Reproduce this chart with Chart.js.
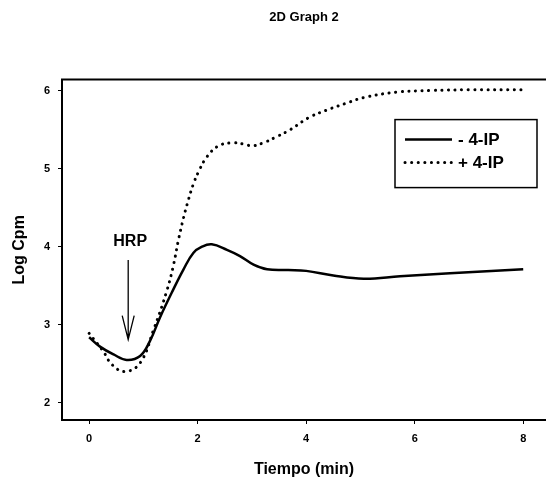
<!DOCTYPE html>
<html>
<head>
<meta charset="utf-8">
<script src="https://cdn.jsdelivr.net/npm/chart.js@4"></script>
<style>
  html, body { margin: 0; padding: 0; background: #fff; }
  #wrap { width: 546px; height: 483px; }
</style>
</head>
<body>
<div id="wrap"><canvas id="chart" width="546" height="483"></canvas></div>
<script>
// Datos
const solidX = [0, 0.2, 0.45, 0.69, 0.94, 1.12, 1.31, 1.55, 1.74, 1.92, 2.08, 2.26, 2.54, 2.78, 3.03, 3.28, 3.67, 4.0, 4.5, 5.06, 5.73, 6.65, 8.0];
const solidY = [2.84, 2.72, 2.62, 2.55, 2.60, 2.79, 3.10, 3.45, 3.71, 3.92, 4.00, 4.03, 3.96, 3.88, 3.77, 3.71, 3.70, 3.69, 3.63, 3.59, 3.62, 3.66, 3.71];
const dotX = [0, 0.26, 0.42, 0.66, 0.94, 1.19, 1.43, 1.55, 1.65, 1.74, 1.83, 1.92, 2.03, 2.17, 2.38, 2.63, 2.88, 3.0, 3.21, 3.46, 3.71, 4.04, 4.38, 4.75, 5.06, 5.67, 6.29, 7.0, 8.0];
const dotY = [2.89, 2.66, 2.49, 2.40, 2.51, 2.94, 3.43, 3.75, 4.10, 4.37, 4.60, 4.80, 4.98, 5.15, 5.29, 5.33, 5.31, 5.29, 5.33, 5.41, 5.50, 5.65, 5.75, 5.84, 5.91, 5.98, 6.0, 6.01, 6.01];
const seriesLabels = ['- 4-IP', '+ 4-IP'];
const xTicks = [0, 2, 4, 6, 8];
const yTicks = [2, 3, 4, 5, 6];
// Anotacion HRP: x, y del texto, inicio y punta de la flecha
const hrpX = 0.72;
const hrpTextY = 4.07;
const hrpArrowTop = 3.83;
const hrpArrowTip = 2.81;

const FONT = "Arial, 'Liberation Sans', sans-serif";

function toPoints(xs, ys) {
  return xs.map((x, i) => ({ x: x, y: ys[i] }));
}

// Marco superior, leyenda y anotacion HRP
const extras = {
  id: 'extras',
  afterDraw(chart) {
    const ctx = chart.ctx;
    const a = chart.chartArea;
    const xs = chart.scales.x, ys = chart.scales.y;
    ctx.save();

    // linea superior del marco
    ctx.strokeStyle = '#000';
    ctx.lineWidth = 2;
    ctx.beginPath();
    ctx.moveTo(a.left - 1, a.top);
    ctx.lineTo(a.right, a.top);
    ctx.stroke();

    // leyenda
    const bx = a.right - 151, by = a.top + 40, bw = 142, bh = 68;
    ctx.lineWidth = 1.5;
    ctx.strokeRect(bx, by, bw, bh);
    const ds = chart.data.datasets;
    ds.forEach((d, i) => {
      const ly = by + 20 + i * 23;
      ctx.beginPath();
      ctx.lineWidth = d.borderWidth;
      ctx.lineCap = d.borderCapStyle || 'butt';
      ctx.setLineDash(d.borderDash || []);
      ctx.moveTo(bx + 10, ly);
      ctx.lineTo(bx + 57, ly);
      ctx.stroke();
      ctx.setLineDash([]);
      ctx.fillStyle = '#000';
      ctx.font = 'bold 17px ' + FONT;
      ctx.textBaseline = 'middle';
      ctx.textAlign = 'left';
      ctx.fillText(d.label, bx + 63, ly + 1);
    });

    // HRP
    const px = xs.getPixelForValue(hrpX);
    ctx.fillStyle = '#000';
    ctx.font = 'bold 16px ' + FONT;
    ctx.textAlign = 'center';
    ctx.textBaseline = 'middle';
    ctx.fillText('HRP', px + 2, ys.getPixelForValue(hrpTextY));
    const top = ys.getPixelForValue(hrpArrowTop);
    const tip = ys.getPixelForValue(hrpArrowTip);
    ctx.lineWidth = 1.3;
    ctx.lineCap = 'butt';
    ctx.beginPath();
    ctx.moveTo(px, top);
    ctx.lineTo(px, tip);
    ctx.moveTo(px - 6, tip - 24);
    ctx.lineTo(px, tip);
    ctx.lineTo(px + 6, tip - 24);
    ctx.stroke();

    ctx.restore();
  }
};

new Chart(document.getElementById('chart'), {
  type: 'line',
  data: {
    datasets: [
      {
        label: seriesLabels[0],
        data: toPoints(solidX, solidY),
        borderColor: '#000',
        borderWidth: 2.5,
        pointRadius: 0,
        fill: false,
        tension: 0.4
      },
      {
        label: seriesLabels[1],
        data: toPoints(dotX, dotY),
        borderColor: '#000',
        borderWidth: 3,
        borderDash: [0.1, 6.5],
        borderCapStyle: 'round',
        pointRadius: 0,
        fill: false,
        tension: 0.4
      }
    ]
  },
  options: {
    responsive: false,
    animation: false,
    layout: { padding: { left: 0, right: 0, top: 0, bottom: 0 } },
    plugins: {
      legend: { display: false },
      tooltip: { enabled: false },
      title: {
        display: true,
        text: '2D Graph 2',
        fullSize: false,
        color: '#000',
        font: { family: FONT, size: 13, weight: 'bold' },
        padding: { top: 10, bottom: 54 }
      }
    },
    scales: {
      x: {
        type: 'linear',
        min: -0.5,
        max: 8.42,
        afterBuildTicks: s => { s.ticks = xTicks.map(v => ({ value: v })); },
        afterFit: s => { s.height = 63; },
        border: { display: true, color: '#000', width: 2 },
        grid: { drawOnChartArea: false, drawTicks: true, tickLength: 4, color: '#000' },
        ticks: {
          color: '#000',
          padding: 8,
          font: { family: FONT, size: 11, weight: 'bold' }
        },
        title: {
          display: true,
          text: 'Tiempo (min)',
          color: '#000',
          font: { family: FONT, size: 16, weight: 'bold' },
          padding: { top: 0, bottom: 4 }
        }
      },
      y: {
        min: 1.78,
        max: 6.14,
        afterBuildTicks: s => { s.ticks = yTicks.map(v => ({ value: v })); },
        afterFit: s => { s.width = 62; },
        border: { display: true, color: '#000', width: 2 },
        grid: { drawOnChartArea: false, drawTicks: true, tickLength: 4, color: '#000' },
        ticks: {
          color: '#000',
          padding: 8,
          font: { family: FONT, size: 11, weight: 'bold' }
        },
        title: {
          display: true,
          text: 'Log Cpm',
          color: '#000',
          font: { family: FONT, size: 16, weight: 'bold' },
          padding: { top: 10, bottom: 0 }
        }
      }
    }
  },
  plugins: [extras]
});
</script>
</body>
</html>
